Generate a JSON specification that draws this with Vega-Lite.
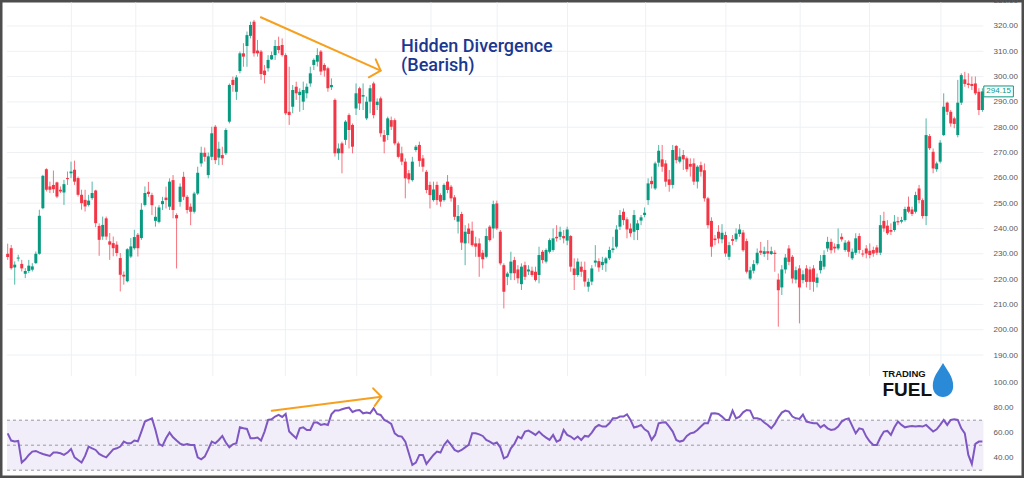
{
"$schema": "https://vega.github.io/schema/vega-lite/v6.json",
"width": 1024, "height": 478, "padding": 0, "autosize": {"type": "none"},
"background": "#ffffff",
"config": {"view": {"stroke": "#4d4d4d", "strokeWidth": 5}, "font": "Liberation Sans"},
"datasets": {
"candles": [
{"i":0,"o":230,"h":234,"l":227.6,"c":228.7},{"i":1,"o":232.2,"h":233.5,"l":223.7,"c":224.3},{"i":2,"o":224.6,"h":227,"l":217.8,"c":225.7},{"i":3,"o":228.1,"h":229.6,"l":227,"c":228.5},{"i":4,"o":226,"h":227.6,"l":223,"c":224.2},{"i":5,"o":222.1,"h":224.3,"l":220.4,"c":223.2},{"i":6,"o":223.2,"h":227.6,"l":222.4,"c":225.3},{"i":7,"o":223.7,"h":226.3,"l":223,"c":225},{"i":8,"o":226.3,"h":230.9,"l":226,"c":230},{"i":9,"o":230,"h":247.4,"l":229.6,"c":245},
{"i":10,"o":248,"h":261.2,"l":247.6,"c":260.8},{"i":11,"o":263.4,"h":263.8,"l":254.6,"c":255.3},{"i":12,"o":256.6,"h":258.5,"l":254,"c":255.3},{"i":13,"o":257.2,"h":262.9,"l":254,"c":255.5},{"i":14,"o":258.2,"h":258.5,"l":252,"c":252.6},{"i":15,"o":255.3,"h":256.6,"l":254,"c":254.6},{"i":16,"o":254.2,"h":259.2,"l":249.3,"c":257.5},{"i":17,"o":259.9,"h":262.5,"l":257.2,"c":259.5},{"i":18,"o":261.8,"h":266.4,"l":259.9,"c":262.5},{"i":19,"o":263.2,"h":266.8,"l":257.2,"c":258.5},
{"i":20,"o":259.9,"h":260.5,"l":252.6,"c":253.3},{"i":21,"o":253.3,"h":255.3,"l":247.4,"c":250},{"i":22,"o":251.3,"h":255.3,"l":246.7,"c":248.7},{"i":23,"o":249.3,"h":253.3,"l":248.7,"c":251},{"i":24,"o":252,"h":258.5,"l":251.3,"c":254},{"i":25,"o":255,"h":255.3,"l":240.5,"c":242.1},{"i":26,"o":241,"h":242,"l":229.2,"c":235.5},{"i":27,"o":236.8,"h":244.7,"l":235.5,"c":241.4},{"i":28,"o":244,"h":244.7,"l":235.5,"c":236.8},{"i":29,"o":234.9,"h":238.2,"l":227.6,"c":233.6},
{"i":30,"o":234.2,"h":236.8,"l":229,"c":232.2},{"i":31,"o":233.6,"h":234.9,"l":229,"c":230.3},{"i":32,"o":228.3,"h":230.3,"l":215.1,"c":221.7},{"i":33,"o":221.7,"h":223,"l":217.8,"c":221},{"i":34,"o":219.1,"h":232.2,"l":218.7,"c":231.8},{"i":35,"o":228.9,"h":236.2,"l":228.3,"c":232.9},{"i":36,"o":232.2,"h":239.5,"l":231.6,"c":236.6},{"i":37,"o":237.5,"h":238.2,"l":228.9,"c":232.2},{"i":38,"o":236.2,"h":250,"l":235.5,"c":247.4},{"i":39,"o":249.3,"h":256.6,"l":248.7,"c":254},
{"i":40,"o":254.5,"h":258.4,"l":252.5,"c":253.6},{"i":41,"o":253.2,"h":254.1,"l":245.3,"c":249.2},{"i":42,"o":243,"h":248.6,"l":240.7,"c":244.6},{"i":43,"o":242.6,"h":249.2,"l":242,"c":248.3},{"i":44,"o":249.6,"h":252.5,"l":247.3,"c":250.8},{"i":45,"o":252.2,"h":256.5,"l":247.9,"c":251.2},{"i":46,"o":248.6,"h":259.8,"l":247.3,"c":258.5},{"i":47,"o":259.1,"h":261.1,"l":244,"c":247.3},{"i":48,"o":245.3,"h":246,"l":224.2,"c":244},{"i":49,"o":250.5,"h":257.8,"l":248.6,"c":256.5},
{"i":50,"o":260.4,"h":262.4,"l":251.2,"c":252.5},{"i":51,"o":252.5,"h":253.2,"l":245.9,"c":247.3},{"i":52,"o":248.6,"h":249.9,"l":241.3,"c":246.6},{"i":53,"o":246.6,"h":254.5,"l":245.9,"c":253.8},{"i":54,"o":253.8,"h":264.4,"l":253.2,"c":262},{"i":55,"o":265.7,"h":272.3,"l":264.4,"c":269.9},{"i":56,"o":269.9,"h":272,"l":266.4,"c":268.3},{"i":57,"o":261.1,"h":270,"l":259.8,"c":268.5},{"i":58,"o":268.3,"h":280.2,"l":267,"c":277.6},{"i":59,"o":280.2,"h":280.9,"l":265.5,"c":267},
{"i":60,"o":268,"h":274.3,"l":265,"c":271.5},{"i":61,"o":269,"h":272.3,"l":265.1,"c":267.7},{"i":62,"o":269.7,"h":279.6,"l":269,"c":278.9},{"i":63,"o":282.2,"h":297.3,"l":281.5,"c":296.7},{"i":64,"o":298.7,"h":300,"l":294,"c":296.7},{"i":65,"o":294,"h":300.6,"l":290.8,"c":299.7},{"i":66,"o":302.2,"h":309.9,"l":301.3,"c":309.2},{"i":67,"o":309.2,"h":313.2,"l":303.9,"c":307.9},{"i":68,"o":312.1,"h":317.8,"l":303.9,"c":316.4},{"i":69,"o":316.1,"h":321.7,"l":315.1,"c":320.4},
{"i":70,"o":321.7,"h":322.4,"l":307.9,"c":309.2},{"i":71,"o":310.3,"h":314.5,"l":307.9,"c":309.2},{"i":72,"o":309.9,"h":310.5,"l":298.7,"c":301},{"i":73,"o":302.4,"h":304.6,"l":297.3,"c":300.6},{"i":74,"o":303.3,"h":308.5,"l":302,"c":306.6},{"i":75,"o":306.8,"h":309.9,"l":306.6,"c":308.5},{"i":76,"o":308.5,"h":314.5,"l":306.6,"c":312.1},{"i":77,"o":312.1,"h":315.8,"l":309.2,"c":310.5},{"i":78,"o":312.5,"h":315.1,"l":307.9,"c":308.5},{"i":79,"o":308.5,"h":309.2,"l":284.8,"c":285.5},
{"i":80,"o":286.1,"h":303.9,"l":280.9,"c":284.8},{"i":81,"o":288.1,"h":296.7,"l":285.5,"c":294.7},{"i":82,"o":296,"h":298,"l":290.8,"c":293.4},{"i":83,"o":292.7,"h":295.4,"l":286.1,"c":294},{"i":84,"o":290.1,"h":298,"l":286.8,"c":294.7},{"i":85,"o":293.4,"h":297.3,"l":291.4,"c":296},{"i":86,"o":297.3,"h":303.9,"l":296,"c":301.3},{"i":87,"o":304.6,"h":307.2,"l":302.6,"c":306.6},{"i":88,"o":305.9,"h":311.2,"l":304,"c":308.5},{"i":89,"o":309.9,"h":310.5,"l":300.6,"c":302},
{"i":90,"o":304.6,"h":305.3,"l":300,"c":302.4},{"i":91,"o":303.3,"h":303.9,"l":294,"c":295.4},{"i":92,"o":295.8,"h":299.3,"l":294.7,"c":296.7},{"i":93,"o":290.8,"h":291.4,"l":268.4,"c":269.7},{"i":94,"o":269.7,"h":273.6,"l":267.1,"c":271.6},{"i":95,"o":273.6,"h":274.3,"l":261.8,"c":269.7},{"i":96,"o":275,"h":282.8,"l":273,"c":282.2},{"i":97,"o":284.8,"h":285.5,"l":271.6,"c":278.9},{"i":98,"o":280.9,"h":281.5,"l":269.7,"c":272.3},{"i":99,"o":287.4,"h":297.3,"l":284.8,"c":293.4},
{"i":100,"o":295.4,"h":296,"l":286.8,"c":289.4},{"i":101,"o":292.1,"h":297.3,"l":286.8,"c":292.7},{"i":102,"o":283.5,"h":292.1,"l":282.8,"c":290.1},{"i":103,"o":290.1,"h":296.7,"l":285.5,"c":295.4},{"i":104,"o":297.3,"h":298,"l":283.5,"c":284.8},{"i":105,"o":288.8,"h":291.4,"l":286.8,"c":290.1},{"i":106,"o":291.4,"h":292.1,"l":276.2,"c":277.6},{"i":107,"o":276.9,"h":278.9,"l":269.7,"c":274.3},{"i":108,"o":276.9,"h":284.2,"l":274.9,"c":283.5},{"i":109,"o":282.8,"h":284.2,"l":278.9,"c":280.2},
{"i":110,"o":282.8,"h":283.5,"l":272.9,"c":273.6},{"i":111,"o":273.6,"h":274.3,"l":267.7,"c":268.3},{"i":112,"o":269.7,"h":272.3,"l":265,"c":266.4},{"i":113,"o":266.4,"h":267.7,"l":251.9,"c":259.8},{"i":114,"o":261.8,"h":263.1,"l":257.8,"c":259.4},{"i":115,"o":259.1,"h":268.3,"l":258.5,"c":266.4},{"i":116,"o":271,"h":273,"l":270.3,"c":272.3},{"i":117,"o":273,"h":274.3,"l":264.4,"c":266.7},{"i":118,"o":267.7,"h":269,"l":262.4,"c":264.4},{"i":119,"o":262.4,"h":263.1,"l":253.9,"c":255.2},
{"i":120,"o":257.2,"h":258.5,"l":247.9,"c":253.2},{"i":121,"o":251.2,"h":258.5,"l":250.6,"c":255.4},{"i":122,"o":257.2,"h":258.5,"l":249.3,"c":251.2},{"i":123,"o":253.2,"h":253.9,"l":248.6,"c":250.6},{"i":124,"o":251.2,"h":257.8,"l":250.6,"c":257.2},{"i":125,"o":258.5,"h":261.1,"l":253.9,"c":255.2},{"i":126,"o":256.5,"h":257.2,"l":250.6,"c":251.9},{"i":127,"o":252.3,"h":253.2,"l":243.3,"c":244.6},{"i":128,"o":242.7,"h":249.3,"l":238,"c":244.9},{"i":129,"o":245.7,"h":246.6,"l":231.5,"c":234.4},
{"i":130,"o":234.1,"h":241.3,"l":225.5,"c":238.7},{"i":131,"o":240,"h":242,"l":234.1,"c":237.8},{"i":132,"o":239.1,"h":242.7,"l":232.8,"c":233.4},{"i":133,"o":234.1,"h":236.7,"l":228.8,"c":232.8},{"i":134,"o":234.1,"h":236.1,"l":220.9,"c":228.8},{"i":135,"o":230.4,"h":231.5,"l":224.2,"c":227.8},{"i":136,"o":228.8,"h":240,"l":228.2,"c":237},{"i":137,"o":240.7,"h":241.3,"l":234.8,"c":235.4},{"i":138,"o":240,"h":251,"l":236.1,"c":249.6},{"i":139,"o":249.9,"h":251,"l":239.4,"c":240},
{"i":140,"o":238.7,"h":239.4,"l":225.5,"c":226.2},{"i":141,"o":225.5,"h":226.2,"l":208.4,"c":215},{"i":142,"o":220.9,"h":222.9,"l":217.6,"c":222.2},{"i":143,"o":222.3,"h":230.8,"l":219.6,"c":226.9},{"i":144,"o":227.5,"h":228.8,"l":219.6,"c":222.3},{"i":145,"o":223.8,"h":225.5,"l":218.3,"c":220.3},{"i":146,"o":218,"h":226.2,"l":215.7,"c":224.9},{"i":147,"o":225.5,"h":226.9,"l":219.6,"c":220.9},{"i":148,"o":223,"h":225.5,"l":221.6,"c":223.8},{"i":149,"o":223.3,"h":224.9,"l":220.9,"c":221.6},
{"i":150,"o":222.9,"h":224.9,"l":219,"c":219.6},{"i":151,"o":221.6,"h":232.8,"l":218.3,"c":229.5},{"i":152,"o":230.8,"h":231.5,"l":226.2,"c":227.5},{"i":153,"o":226.9,"h":232.1,"l":226.2,"c":231.5},{"i":154,"o":230.8,"h":236.1,"l":230.1,"c":235.4},{"i":155,"o":231.5,"h":240,"l":230.8,"c":236.1},{"i":156,"o":236.7,"h":241.3,"l":234.8,"c":236.1},{"i":157,"o":236.7,"h":240.7,"l":235.4,"c":238.7},{"i":158,"o":237,"h":239.4,"l":234.1,"c":236.1},{"i":159,"o":235.2,"h":240.7,"l":233.4,"c":239.6},
{"i":160,"o":237,"h":237.4,"l":222.9,"c":224.9},{"i":161,"o":224.2,"h":228.2,"l":215.7,"c":221.6},{"i":162,"o":221.6,"h":228.2,"l":220.9,"c":226.9},{"i":163,"o":224.9,"h":226.9,"l":220.9,"c":222.9},{"i":164,"o":223.6,"h":226.9,"l":217,"c":219},{"i":165,"o":217,"h":220.3,"l":215,"c":218.9},{"i":166,"o":219,"h":225.5,"l":217.6,"c":224.2},{"i":167,"o":226.5,"h":233.4,"l":224.9,"c":227.3},{"i":168,"o":227.1,"h":228.2,"l":222.9,"c":224.6},{"i":169,"o":225.5,"h":228.8,"l":223.6,"c":226.8},
{"i":170,"o":226.2,"h":228.8,"l":222.9,"c":228.2},{"i":171,"o":228.2,"h":232.8,"l":227.5,"c":231.5},{"i":172,"o":231.5,"h":236.7,"l":230.4,"c":232.1},{"i":173,"o":232.8,"h":241.3,"l":232.1,"c":239.6},{"i":174,"o":240.7,"h":247.3,"l":239.4,"c":245.3},{"i":175,"o":246.6,"h":247.9,"l":241.3,"c":243.3},{"i":176,"o":243.6,"h":244.4,"l":236.1,"c":239.6},{"i":177,"o":240,"h":242,"l":236.7,"c":238.1},{"i":178,"o":238.7,"h":247.3,"l":235.4,"c":245.3},{"i":179,"o":239.4,"h":243.3,"l":235.4,"c":242},
{"i":180,"o":243.1,"h":245.3,"l":241.3,"c":244.4},{"i":181,"o":245.3,"h":248.3,"l":244.4,"c":246.2},{"i":182,"o":251.2,"h":259.8,"l":249.3,"c":257.8},{"i":183,"o":258.8,"h":260.5,"l":255.8,"c":257.5},{"i":184,"o":255.8,"h":266.4,"l":255.2,"c":265.7},{"i":185,"o":266,"h":273,"l":264.4,"c":270.7},{"i":186,"o":267.3,"h":273,"l":262.4,"c":264.4},{"i":187,"o":265.7,"h":267,"l":256.5,"c":258.5},{"i":188,"o":259.4,"h":263.1,"l":254.5,"c":257.2},{"i":189,"o":257.2,"h":273,"l":255.8,"c":271},
{"i":190,"o":272.6,"h":273,"l":265.7,"c":267},{"i":191,"o":266.4,"h":271.7,"l":265.7,"c":268.4},{"i":192,"o":269,"h":271,"l":263.1,"c":267.3},{"i":193,"o":267.7,"h":268.4,"l":262.4,"c":263.4},{"i":194,"o":265.5,"h":267.7,"l":260.5,"c":264.4},{"i":195,"o":265.7,"h":267.7,"l":257.2,"c":258.5},{"i":196,"o":258.5,"h":265,"l":255.8,"c":264.4},{"i":197,"o":265,"h":266.4,"l":260.5,"c":262.4},{"i":198,"o":263,"h":265.7,"l":250.6,"c":251.9},{"i":199,"o":251.9,"h":252.5,"l":240,"c":241.3},
{"i":200,"o":243,"h":244.4,"l":228.8,"c":232.8},{"i":201,"o":236,"h":237.4,"l":233.4,"c":235.4},{"i":202,"o":238.7,"h":241.3,"l":234.1,"c":236},{"i":203,"o":235.7,"h":241.7,"l":234.1,"c":238.3},{"i":204,"o":237.4,"h":238.7,"l":228.8,"c":230.1},{"i":205,"o":228.8,"h":234.7,"l":227.5,"c":233.4},{"i":206,"o":235.8,"h":237.4,"l":233.4,"c":235.1},{"i":207,"o":235.7,"h":240,"l":234.7,"c":238},{"i":208,"o":237.8,"h":241.7,"l":236.7,"c":239.6},{"i":209,"o":238.4,"h":239.4,"l":230.8,"c":231.4},
{"i":210,"o":235,"h":236,"l":222.2,"c":222.9},{"i":211,"o":220.2,"h":224.9,"l":219.6,"c":223.5},{"i":212,"o":223.3,"h":227.5,"l":222.2,"c":225.9},{"i":213,"o":226.2,"h":232.1,"l":225.5,"c":230.4},{"i":214,"o":231.2,"h":234.7,"l":229.5,"c":230.4},{"i":215,"o":229.9,"h":232.8,"l":228.8,"c":231},{"i":216,"o":231,"h":235.4,"l":227.5,"c":230.1},{"i":217,"o":229.9,"h":232.8,"l":229.5,"c":231},{"i":218,"o":230.4,"h":231.4,"l":222.9,"c":229.9},{"i":219,"o":219.8,"h":222.2,"l":201.2,"c":215.6},
{"i":220,"o":216.7,"h":225.5,"l":213.7,"c":223.8},{"i":221,"o":223.8,"h":229.9,"l":222.2,"c":228.5},{"i":222,"o":232.1,"h":233.4,"l":225.5,"c":226.8},{"i":223,"o":228.8,"h":229.5,"l":218.3,"c":220.2},{"i":224,"o":219.8,"h":224.9,"l":218.3,"c":223.5},{"i":225,"o":224.2,"h":225.5,"l":202.5,"c":216.7},{"i":226,"o":219.6,"h":223.5,"l":218.3,"c":221.9},{"i":227,"o":224.2,"h":225.5,"l":216.7,"c":218.9},{"i":228,"o":223.8,"h":224.9,"l":215.7,"c":218.9},{"i":229,"o":224.2,"h":225.5,"l":215,"c":218.9},
{"i":230,"o":218.5,"h":222.2,"l":216.7,"c":220.6},{"i":231,"o":223.5,"h":229.5,"l":222.2,"c":227.2},{"i":232,"o":224.9,"h":231.4,"l":223.8,"c":229.5},{"i":233,"o":232.1,"h":236.7,"l":230.8,"c":234.7},{"i":234,"o":234.7,"h":236,"l":230.1,"c":231.4},{"i":235,"o":232.8,"h":234.1,"l":230.4,"c":232.1},{"i":236,"o":232.1,"h":240,"l":231.4,"c":233.8},{"i":237,"o":236.7,"h":238.1,"l":234.8,"c":235.7},{"i":238,"o":231.5,"h":235.4,"l":230.8,"c":234.4},{"i":239,"o":234.8,"h":235.4,"l":228.8,"c":230.8},
{"i":240,"o":228.2,"h":232.1,"l":227.5,"c":230.8},{"i":241,"o":230.4,"h":238.1,"l":229.5,"c":236.1},{"i":242,"o":237,"h":238.1,"l":230.1,"c":231.5},{"i":243,"o":230.1,"h":231.5,"l":228.8,"c":229.7},{"i":244,"o":232.1,"h":233.4,"l":228.2,"c":230.1},{"i":245,"o":231.2,"h":234.1,"l":228.2,"c":229.5},{"i":246,"o":231.5,"h":232.8,"l":228.8,"c":230.1},{"i":247,"o":232.5,"h":233.4,"l":229.5,"c":230.4},{"i":248,"o":230.4,"h":245.3,"l":229.5,"c":241.3},{"i":249,"o":243,"h":246.6,"l":238.7,"c":240},
{"i":250,"o":241.1,"h":243.3,"l":237.4,"c":238.1},{"i":251,"o":239.4,"h":242,"l":237.4,"c":238.7},{"i":252,"o":239.4,"h":245.3,"l":238.7,"c":242.7},{"i":253,"o":242.9,"h":244.6,"l":241.3,"c":242.4},{"i":254,"o":242.7,"h":244.6,"l":242,"c":243.3},{"i":255,"o":243.3,"h":248.6,"l":242.7,"c":247.7},{"i":256,"o":248.6,"h":252.6,"l":246,"c":246.6},{"i":257,"o":247.5,"h":248.6,"l":244.9,"c":245.7},{"i":258,"o":246.6,"h":254.5,"l":245.9,"c":253.2},{"i":259,"o":255.8,"h":257.2,"l":249.9,"c":251.2},
{"i":260,"o":251.2,"h":251.9,"l":243.9,"c":244.9},{"i":261,"o":244.9,"h":283.5,"l":241.3,"c":276.9},{"i":262,"o":276.5,"h":277.3,"l":271,"c":271.7},{"i":263,"o":270.3,"h":271.6,"l":261.8,"c":263.7},{"i":264,"o":263.4,"h":266.4,"l":262.4,"c":265.7},{"i":265,"o":266.4,"h":274.9,"l":265.7,"c":273.9},{"i":266,"o":276.9,"h":293.4,"l":276.5,"c":288.1},{"i":267,"o":289.7,"h":290.1,"l":284.8,"c":286.1},{"i":268,"o":286.1,"h":286.8,"l":280.2,"c":281.5},{"i":269,"o":283.5,"h":284.2,"l":279.6,"c":281.3},
{"i":270,"o":276.9,"h":298.7,"l":276,"c":289.7},{"i":271,"o":289.7,"h":301.3,"l":288.8,"c":300.6},{"i":272,"o":298.9,"h":301.9,"l":296,"c":297.1},{"i":273,"o":297.3,"h":301.3,"l":295.4,"c":296.7},{"i":274,"o":297.1,"h":300,"l":294.7,"c":296.3},{"i":275,"o":297.3,"h":300,"l":292.7,"c":293.4},{"i":276,"o":294,"h":295.4,"l":284.8,"c":286.8},{"i":277,"o":286.8,"h":295.4,"l":286.1,"c":294.15}
],
"rsi": [
{"i":0,"v":59.5},{"i":1,"v":53.7},{"i":2,"v":52.9},{"i":3,"v":53.4},{"i":4,"v":36.1},{"i":5,"v":38.7},{"i":6,"v":42.2},{"i":7,"v":44.9},{"i":8,"v":45.4},{"i":9,"v":44.1},
{"i":10,"v":43.0},{"i":11,"v":42.2},{"i":12,"v":41.4},{"i":13,"v":44.1},{"i":14,"v":44.1},{"i":15,"v":43.5},{"i":16,"v":42.2},{"i":17,"v":44.1},{"i":18,"v":47.0},{"i":19,"v":40.3},
{"i":20,"v":38.2},{"i":21,"v":36.1},{"i":22,"v":41.4},{"i":23,"v":48.9},{"i":24,"v":47.5},{"i":25,"v":46.2},{"i":26,"v":43.0},{"i":27,"v":41.4},{"i":28,"v":40.3},{"i":29,"v":43.5},
{"i":30,"v":46.7},{"i":31,"v":47.5},{"i":32,"v":48.9},{"i":33,"v":52.9},{"i":34,"v":51.5},{"i":35,"v":51.5},{"i":36,"v":53.7},{"i":37,"v":53.1},{"i":38,"v":60.9},{"i":39,"v":68.9},
{"i":40,"v":70.2},{"i":41,"v":71.5},{"i":42,"v":62.2},{"i":43,"v":51.0},{"i":44,"v":49.4},{"i":45,"v":55.5},{"i":46,"v":60.1},{"i":47,"v":56.3},{"i":48,"v":53.7},{"i":49,"v":51.3},
{"i":50,"v":50.2},{"i":51,"v":51.0},{"i":52,"v":50.2},{"i":53,"v":50.2},{"i":54,"v":40.3},{"i":55,"v":38.7},{"i":56,"v":40.9},{"i":57,"v":46.7},{"i":58,"v":52.9},{"i":59,"v":51.5},
{"i":60,"v":54.2},{"i":61,"v":57.4},{"i":62,"v":52.1},{"i":63,"v":48.3},{"i":64,"v":50.7},{"i":65,"v":51.5},{"i":66,"v":64.3},{"i":67,"v":63.5},{"i":68,"v":63.0},{"i":69,"v":55.5},
{"i":70,"v":55.5},{"i":71,"v":56.1},{"i":72,"v":53.7},{"i":73,"v":60.9},{"i":74,"v":70.2},{"i":75,"v":70.7},{"i":76,"v":72.9},{"i":77,"v":74.2},{"i":78,"v":72.6},{"i":79,"v":75.0},
{"i":80,"v":60.9},{"i":81,"v":58.2},{"i":82,"v":55.5},{"i":83,"v":63.5},{"i":84,"v":64.3},{"i":85,"v":62.2},{"i":86,"v":62.2},{"i":87,"v":68.1},{"i":88,"v":68.1},{"i":89,"v":66.2},
{"i":90,"v":67.0},{"i":91,"v":66.2},{"i":92,"v":74.7},{"i":93,"v":77.7},{"i":94,"v":77.7},{"i":95,"v":78.7},{"i":96,"v":79.5},{"i":97,"v":80.1},{"i":98,"v":76.6},{"i":99,"v":77.7},
{"i":100,"v":78.2},{"i":101,"v":75.5},{"i":102,"v":76.1},{"i":103,"v":75.5},{"i":104,"v":79.5},{"i":105,"v":75.0},{"i":106,"v":74.2},{"i":107,"v":70.2},{"i":108,"v":68.9},{"i":109,"v":67.0},
{"i":110,"v":59.5},{"i":111,"v":57.4},{"i":112,"v":56.9},{"i":113,"v":52.9},{"i":114,"v":43.5},{"i":115,"v":34.2},{"i":116,"v":36.1},{"i":117,"v":42.2},{"i":118,"v":42.2},{"i":119,"v":35.0},
{"i":120,"v":38.7},{"i":121,"v":42.2},{"i":122,"v":44.9},{"i":123,"v":44.1},{"i":124,"v":50.2},{"i":125,"v":53.7},{"i":126,"v":50.2},{"i":127,"v":46.2},{"i":128,"v":44.9},{"i":129,"v":46.2},
{"i":130,"v":48.3},{"i":131,"v":50.2},{"i":132,"v":59.5},{"i":133,"v":59.5},{"i":134,"v":58.7},{"i":135,"v":57.4},{"i":136,"v":54.2},{"i":137,"v":52.9},{"i":138,"v":51.0},{"i":139,"v":52.1},
{"i":140,"v":48.3},{"i":141,"v":39.5},{"i":142,"v":40.9},{"i":143,"v":47.5},{"i":144,"v":51.0},{"i":145,"v":56.9},{"i":146,"v":55.5},{"i":147,"v":60.9},{"i":148,"v":61.7},{"i":149,"v":60.1},
{"i":150,"v":58.2},{"i":151,"v":60.9},{"i":152,"v":58.2},{"i":153,"v":56.1},{"i":154,"v":54.2},{"i":155,"v":58.2},{"i":156,"v":52.9},{"i":157,"v":54.2},{"i":158,"v":62.2},{"i":159,"v":58.2},
{"i":160,"v":56.9},{"i":161,"v":54.7},{"i":162,"v":56.9},{"i":163,"v":54.2},{"i":164,"v":57.4},{"i":165,"v":56.9},{"i":166,"v":60.1},{"i":167,"v":64.3},{"i":168,"v":66.2},{"i":169,"v":64.9},
{"i":170,"v":64.9},{"i":171,"v":67.5},{"i":172,"v":71.5},{"i":173,"v":71.5},{"i":174,"v":72.9},{"i":175,"v":72.9},{"i":176,"v":74.7},{"i":177,"v":70.2},{"i":178,"v":64.1},{"i":179,"v":64.9},
{"i":180,"v":66.2},{"i":181,"v":62.7},{"i":182,"v":60.9},{"i":183,"v":54.2},{"i":184,"v":58.2},{"i":185,"v":67.5},{"i":186,"v":68.1},{"i":187,"v":68.3},{"i":188,"v":64.9},{"i":189,"v":60.9},
{"i":190,"v":54.2},{"i":191,"v":52.9},{"i":192,"v":53.7},{"i":193,"v":57.4},{"i":194,"v":59.5},{"i":195,"v":60.1},{"i":196,"v":62.2},{"i":197,"v":64.9},{"i":198,"v":67.5},{"i":199,"v":67.5},
{"i":200,"v":75.3},{"i":201,"v":75.5},{"i":202,"v":75.0},{"i":203,"v":72.9},{"i":204,"v":70.2},{"i":205,"v":70.2},{"i":206,"v":77.7},{"i":207,"v":71.5},{"i":208,"v":72.9},{"i":209,"v":76.3},
{"i":210,"v":78.2},{"i":211,"v":77.7},{"i":212,"v":71.5},{"i":213,"v":71.5},{"i":214,"v":70.7},{"i":215,"v":68.1},{"i":216,"v":66.2},{"i":217,"v":63.5},{"i":218,"v":67.0},{"i":219,"v":72.1},
{"i":220,"v":76.1},{"i":221,"v":77.7},{"i":222,"v":76.9},{"i":223,"v":72.9},{"i":224,"v":71.5},{"i":225,"v":71.0},{"i":226,"v":74.5},{"i":227,"v":68.9},{"i":228,"v":68.1},{"i":229,"v":67.5},
{"i":230,"v":67.5},{"i":231,"v":64.3},{"i":232,"v":66.2},{"i":233,"v":63.5},{"i":234,"v":62.2},{"i":235,"v":62.7},{"i":236,"v":64.9},{"i":237,"v":68.9},{"i":238,"v":70.7},{"i":239,"v":71.5},
{"i":240,"v":65.4},{"i":241,"v":59.5},{"i":242,"v":63.5},{"i":243,"v":62.7},{"i":244,"v":56.9},{"i":245,"v":52.9},{"i":246,"v":50.2},{"i":247,"v":50.2},{"i":248,"v":56.1},{"i":249,"v":60.9},
{"i":250,"v":61.4},{"i":251,"v":58.2},{"i":252,"v":64.3},{"i":253,"v":68.9},{"i":254,"v":66.2},{"i":255,"v":64.3},{"i":256,"v":64.9},{"i":257,"v":65.4},{"i":258,"v":64.9},{"i":259,"v":65.4},
{"i":260,"v":64.9},{"i":261,"v":66.2},{"i":262,"v":63.5},{"i":263,"v":60.9},{"i":264,"v":62.7},{"i":265,"v":66.2},{"i":266,"v":70.2},{"i":267,"v":66.2},{"i":268,"v":70.2},{"i":269,"v":70.7},
{"i":270,"v":70.2},{"i":271,"v":63.5},{"i":272,"v":59.5},{"i":273,"v":42.2},{"i":274,"v":35.0},{"i":275,"v":51.0},{"i":276,"v":52.9},{"i":277,"v":52.9}
],
"vgrid": [{"i":18.1},{"i":36.4},{"i":58.3},{"i":78.9},{"i":99.2},{"i":120.3},{"i":139.1},{"i":159.1},{"i":181.3},{"i":204.1},{"i":225.2},{"i":244.9},{"i":265.2}],
"hgrid": [{"p":190},{"p":200},{"p":210},{"p":220},{"p":230},{"p":240},{"p":250},{"p":260},{"p":270},{"p":280},{"p":290},{"p":300},{"p":310},{"p":320}],
"arrowP": [{"s":"a","k":0,"i":71.94,"p":323.44},{"s":"a","k":1,"i":106.0,"p":302.34},{"s":"b","k":0,"i":104.59,"p":306.84},{"s":"b","k":1,"i":106.0,"p":302.34},{"s":"b","k":2,"i":102.62,"p":299.73}],
"arrowR": [{"s":"a","k":0,"i":75.04,"v":77.6},{"s":"a","k":1,"i":106.19,"v":88.8},{"s":"b","k":0,"i":103.86,"v":95.5},{"s":"b","k":1,"i":106.19,"v":88.8},{"s":"b","k":2,"i":104.3,"v":81.4}],
"notes": [{"i":111.8,"p":309.7,"t":"Hidden Divergence"},{"i":111.8,"p":302.2,"t":"(Bearish)"}],
"rsiLevels": [{"v":70},{"v":50},{"v":30}]
},
"layer": [
{"data": {"name": "vgrid"}, "mark": {"type": "rule", "color": "#eef0f3", "strokeWidth": 1},
 "encoding": {"x": {"field": "i", "type": "quantitative", "scale": {"domain": [-0.76, 287.4], "nice": false, "zero": false}, "axis": null},
  "y": {"datum": 329.3, "type": "quantitative", "scale": {"domain": [141.4, 330.27], "nice": false, "zero": false}, "axis": null},
  "y2": {"datum": 181.7}}},
{"data": {"name": "hgrid"}, "mark": {"type": "rule", "color": "#eef0f3", "strokeWidth": 1},
 "encoding": {"y": {"field": "p", "type": "quantitative", "scale": {"domain": [141.4, 330.27], "nice": false, "zero": false}, "axis": {"orient": "right", "offset": -36, "values": [190,200,210,220,230,240,250,260,270,280,290,300,310,320,330], "format": ".2f", "ticks": false, "domain": false, "grid": false, "labelPadding": 5, "labelAlign": "left", "labelFontSize": 8, "labelColor": "#555861", "labelFont": "Liberation Sans", "title": null, "labelOverlap": false, "labelBound": false}},
  "x": {"datum": -0.2, "type": "quantitative", "scale": {"domain": [-0.76, 287.4], "nice": false, "zero": false}, "axis": null},
  "x2": {"datum": 277.3}}},
{"data": {"name": "candles"}, "mark": {"type": "rule", "strokeWidth": 1, "opacity": 0.7},
 "encoding": {"x": {"field": "i", "type": "quantitative", "scale": {"domain": [-0.76, 287.4], "nice": false, "zero": false}, "axis": null},
  "y": {"field": "l", "type": "quantitative", "scale": {"domain": [141.4, 330.27], "nice": false, "zero": false}, "axis": null},
  "y2": {"field": "h"},
  "color": {"condition": {"test": "datum.c >= datum.o", "value": "#089981"}, "value": "#f23645"}}},
{"data": {"name": "candles"}, "mark": {"type": "bar", "size": 3},
 "encoding": {"x": {"field": "i", "type": "quantitative", "scale": {"domain": [-0.76, 287.4], "nice": false, "zero": false}, "axis": null},
  "y": {"field": "o", "type": "quantitative", "scale": {"domain": [141.4, 330.27], "nice": false, "zero": false}, "axis": null},
  "y2": {"field": "c"},
  "color": {"condition": {"test": "datum.c >= datum.o", "value": "#089981"}, "value": "#f23645"}}},
{"data": {"name": "arrowP"}, "mark": {"type": "line", "color": "#f7a01e", "strokeWidth": 2, "strokeCap": "round", "strokeJoin": "round"},
 "encoding": {"x": {"field": "i", "type": "quantitative", "scale": {"domain": [-0.76, 287.4], "nice": false, "zero": false}, "axis": null},
  "y": {"field": "p", "type": "quantitative", "scale": {"domain": [141.4, 330.27], "nice": false, "zero": false}, "axis": null},
  "detail": {"field": "s"}, "order": {"field": "k"}}},
{"data": {"name": "notes"}, "mark": {"type": "text", "align": "left", "baseline": "alphabetic", "fontSize": 18, "fontWeight": 500, "font": "Roboto", "color": "#1b3891"},
 "encoding": {"x": {"field": "i", "type": "quantitative", "scale": {"domain": [-0.76, 287.4], "nice": false, "zero": false}, "axis": null},
  "y": {"field": "p", "type": "quantitative", "scale": {"domain": [141.4, 330.27], "nice": false, "zero": false}, "axis": null},
  "text": {"field": "t"}}},
{"data": {"values": [{"i":248.6,"p":181.3,"t":"TRADING"}]}, "mark": {"type": "text", "align": "left", "baseline": "alphabetic", "fontSize": 9.5, "fontWeight": "bold", "font": "Liberation Sans", "color": "#111111", "letterSpacing": 1},
 "encoding": {"x": {"field": "i", "type": "quantitative", "scale": {"domain": [-0.76, 287.4], "nice": false, "zero": false}, "axis": null},
  "y": {"field": "p", "type": "quantitative", "scale": {"domain": [141.4, 330.27], "nice": false, "zero": false}, "axis": null},
  "text": {"field": "t"}}},
{"data": {"values": [{"i":248.6,"p":173.8,"t":"FUEL"}]}, "mark": {"type": "text", "align": "left", "baseline": "alphabetic", "fontSize": 19, "fontWeight": "bold", "font": "Liberation Sans", "color": "#111111"},
 "encoding": {"x": {"field": "i", "type": "quantitative", "scale": {"domain": [-0.76, 287.4], "nice": false, "zero": false}, "axis": null},
  "y": {"field": "p", "type": "quantitative", "scale": {"domain": [141.4, 330.27], "nice": false, "zero": false}, "axis": null},
  "text": {"field": "t"}}},
{"data": {"values": [{"i":265.8,"p":180.1}]}, "mark": {"type": "point", "filled": true, "color": "#2a8ad8", "opacity": 1, "size": 1156, "shape": "M0,-1C0.25,-0.55 0.6,-0.2 0.6,0.35C0.6,0.75 0.32,1 0,1C-0.32,1 -0.6,0.75 -0.6,0.35C-0.6,-0.2 -0.25,-0.55 0,-1Z"},
 "encoding": {"x": {"field": "i", "type": "quantitative", "scale": {"domain": [-0.76, 287.4], "nice": false, "zero": false}, "axis": null},
  "y": {"field": "p", "type": "quantitative", "scale": {"domain": [141.4, 330.27], "nice": false, "zero": false}, "axis": null}}},
{"data": {"values": [{"a":277.4,"b":285.8,"y1":296.3,"y2":292.0}]}, "mark": {"type": "rect", "fill": "#ffffff", "stroke": "#089981", "strokeWidth": 1},
 "encoding": {"x": {"field": "a", "type": "quantitative", "scale": {"domain": [-0.76, 287.4], "nice": false, "zero": false}, "axis": null},
  "x2": {"field": "b"},
  "y": {"field": "y1", "type": "quantitative", "scale": {"domain": [141.4, 330.27], "nice": false, "zero": false}, "axis": null},
  "y2": {"field": "y2"}}},
{"data": {"values": [{"i":281.6,"p":294.15,"t":"294.15"}]}, "mark": {"type": "text", "align": "center", "baseline": "middle", "fontSize": 8, "font": "Liberation Sans", "color": "#089981"},
 "encoding": {"x": {"field": "i", "type": "quantitative", "scale": {"domain": [-0.76, 287.4], "nice": false, "zero": false}, "axis": null},
  "y": {"field": "p", "type": "quantitative", "scale": {"domain": [141.4, 330.27], "nice": false, "zero": false}, "axis": null},
  "text": {"field": "t"}}},
{"data": {"values": [{"a":-0.2,"b":277.3,"y1":30,"y2":70}]}, "mark": {"type": "rect", "fill": "#7e57c2", "opacity": 0.1},
 "encoding": {"x": {"field": "a", "type": "quantitative", "scale": {"domain": [-0.76, 287.4], "nice": false, "zero": false}, "axis": null},
  "x2": {"field": "b"},
  "y": {"field": "y1", "type": "quantitative", "scale": {"domain": [23.76, 406.16], "nice": false, "zero": false}, "axis": null},
  "y2": {"field": "y2"}}},
{"data": {"name": "rsiLevels"}, "mark": {"type": "rule", "color": "#9598a1", "strokeWidth": 1, "strokeDash": [3, 3]},
 "encoding": {"y": {"field": "v", "type": "quantitative", "scale": {"domain": [23.76, 406.16], "nice": false, "zero": false}, "axis": {"orient": "right", "offset": -36, "values": [40,60,80,100], "format": ".2f", "ticks": false, "domain": false, "grid": false, "labelPadding": 5, "labelAlign": "left", "labelFontSize": 8, "labelColor": "#555861", "labelFont": "Liberation Sans", "title": null, "labelOverlap": false, "labelBound": false}},
  "x": {"datum": -0.2, "type": "quantitative", "scale": {"domain": [-0.76, 287.4], "nice": false, "zero": false}, "axis": null},
  "x2": {"datum": 277.3}}},
{"data": {"name": "rsi"}, "mark": {"type": "line", "color": "#7e57c2", "strokeWidth": 2},
 "encoding": {"x": {"field": "i", "type": "quantitative", "scale": {"domain": [-0.76, 287.4], "nice": false, "zero": false}, "axis": null},
  "y": {"field": "v", "type": "quantitative", "scale": {"domain": [23.76, 406.16], "nice": false, "zero": false}, "axis": null}}},
{"data": {"name": "arrowR"}, "mark": {"type": "line", "color": "#f7a01e", "strokeWidth": 2, "strokeCap": "round", "strokeJoin": "round"},
 "encoding": {"x": {"field": "i", "type": "quantitative", "scale": {"domain": [-0.76, 287.4], "nice": false, "zero": false}, "axis": null},
  "y": {"field": "v", "type": "quantitative", "scale": {"domain": [23.76, 406.16], "nice": false, "zero": false}, "axis": null},
  "detail": {"field": "s"}, "order": {"field": "k"}}}
],
"resolve": {"scale": {"y": "independent"}, "axis": {"y": "independent"}}
}
